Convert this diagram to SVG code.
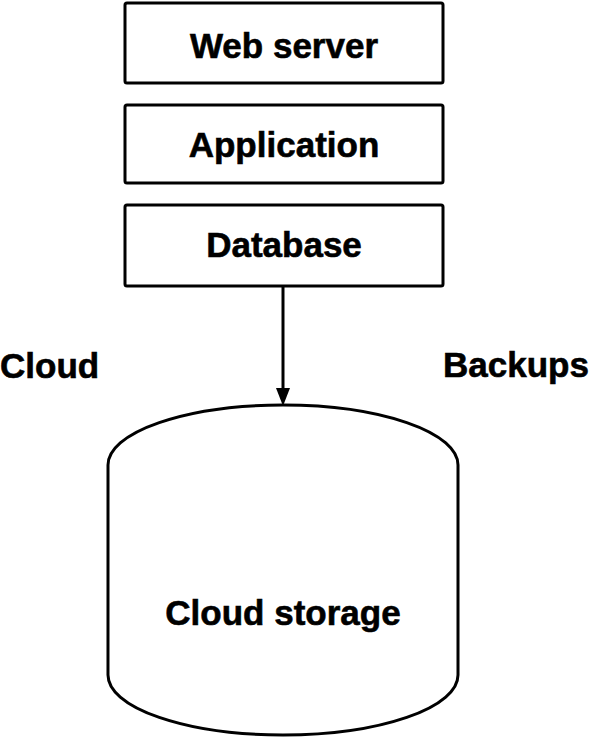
<svg xmlns="http://www.w3.org/2000/svg" width="592" height="738" viewBox="0 0 592 738">
<style>
.box{fill:#fff;stroke:#000;stroke-width:3}
.t{font-family:"Liberation Sans",Arial,sans-serif;font-weight:bold;font-size:35px;fill:#000;stroke:#000;stroke-width:0.6}
.c{text-anchor:middle}
.line{stroke:#000;stroke-width:3;fill:none}
</style>
<rect width="592" height="738" fill="#fff"/>
<g id="web-server">
<rect class="box" x="125" y="3" width="318" height="80" rx="2"/>
<text class="t c" x="284" y="58">Web server</text>
</g>
<g id="application">
<rect class="box" x="125" y="105" width="318" height="78" rx="2"/>
<text class="t c" x="284" y="157">Application</text>
</g>
<g id="database">
<rect class="box" x="125" y="205" width="318" height="81" rx="2"/>
<text class="t c" x="284" y="257">Database</text>
</g>
<g id="cloud-storage">
<path class="box" d="M108,465 A175,60 0 0 1 458,465 L458,675 A175,60 0 0 1 108,675 Z"/>
<text class="t c" x="283" y="625">Cloud storage</text>
</g>
<g id="labels">
<text class="t" x="0" y="378">Cloud</text>
<text class="t" x="443" y="377">Backups</text>
</g>
<g id="connectors">
<path class="line" d="M283,287 L283,390"/>
<path d="M276,388 L290,388 L283,406 Z" fill="#000"/>
</g>
</svg>
